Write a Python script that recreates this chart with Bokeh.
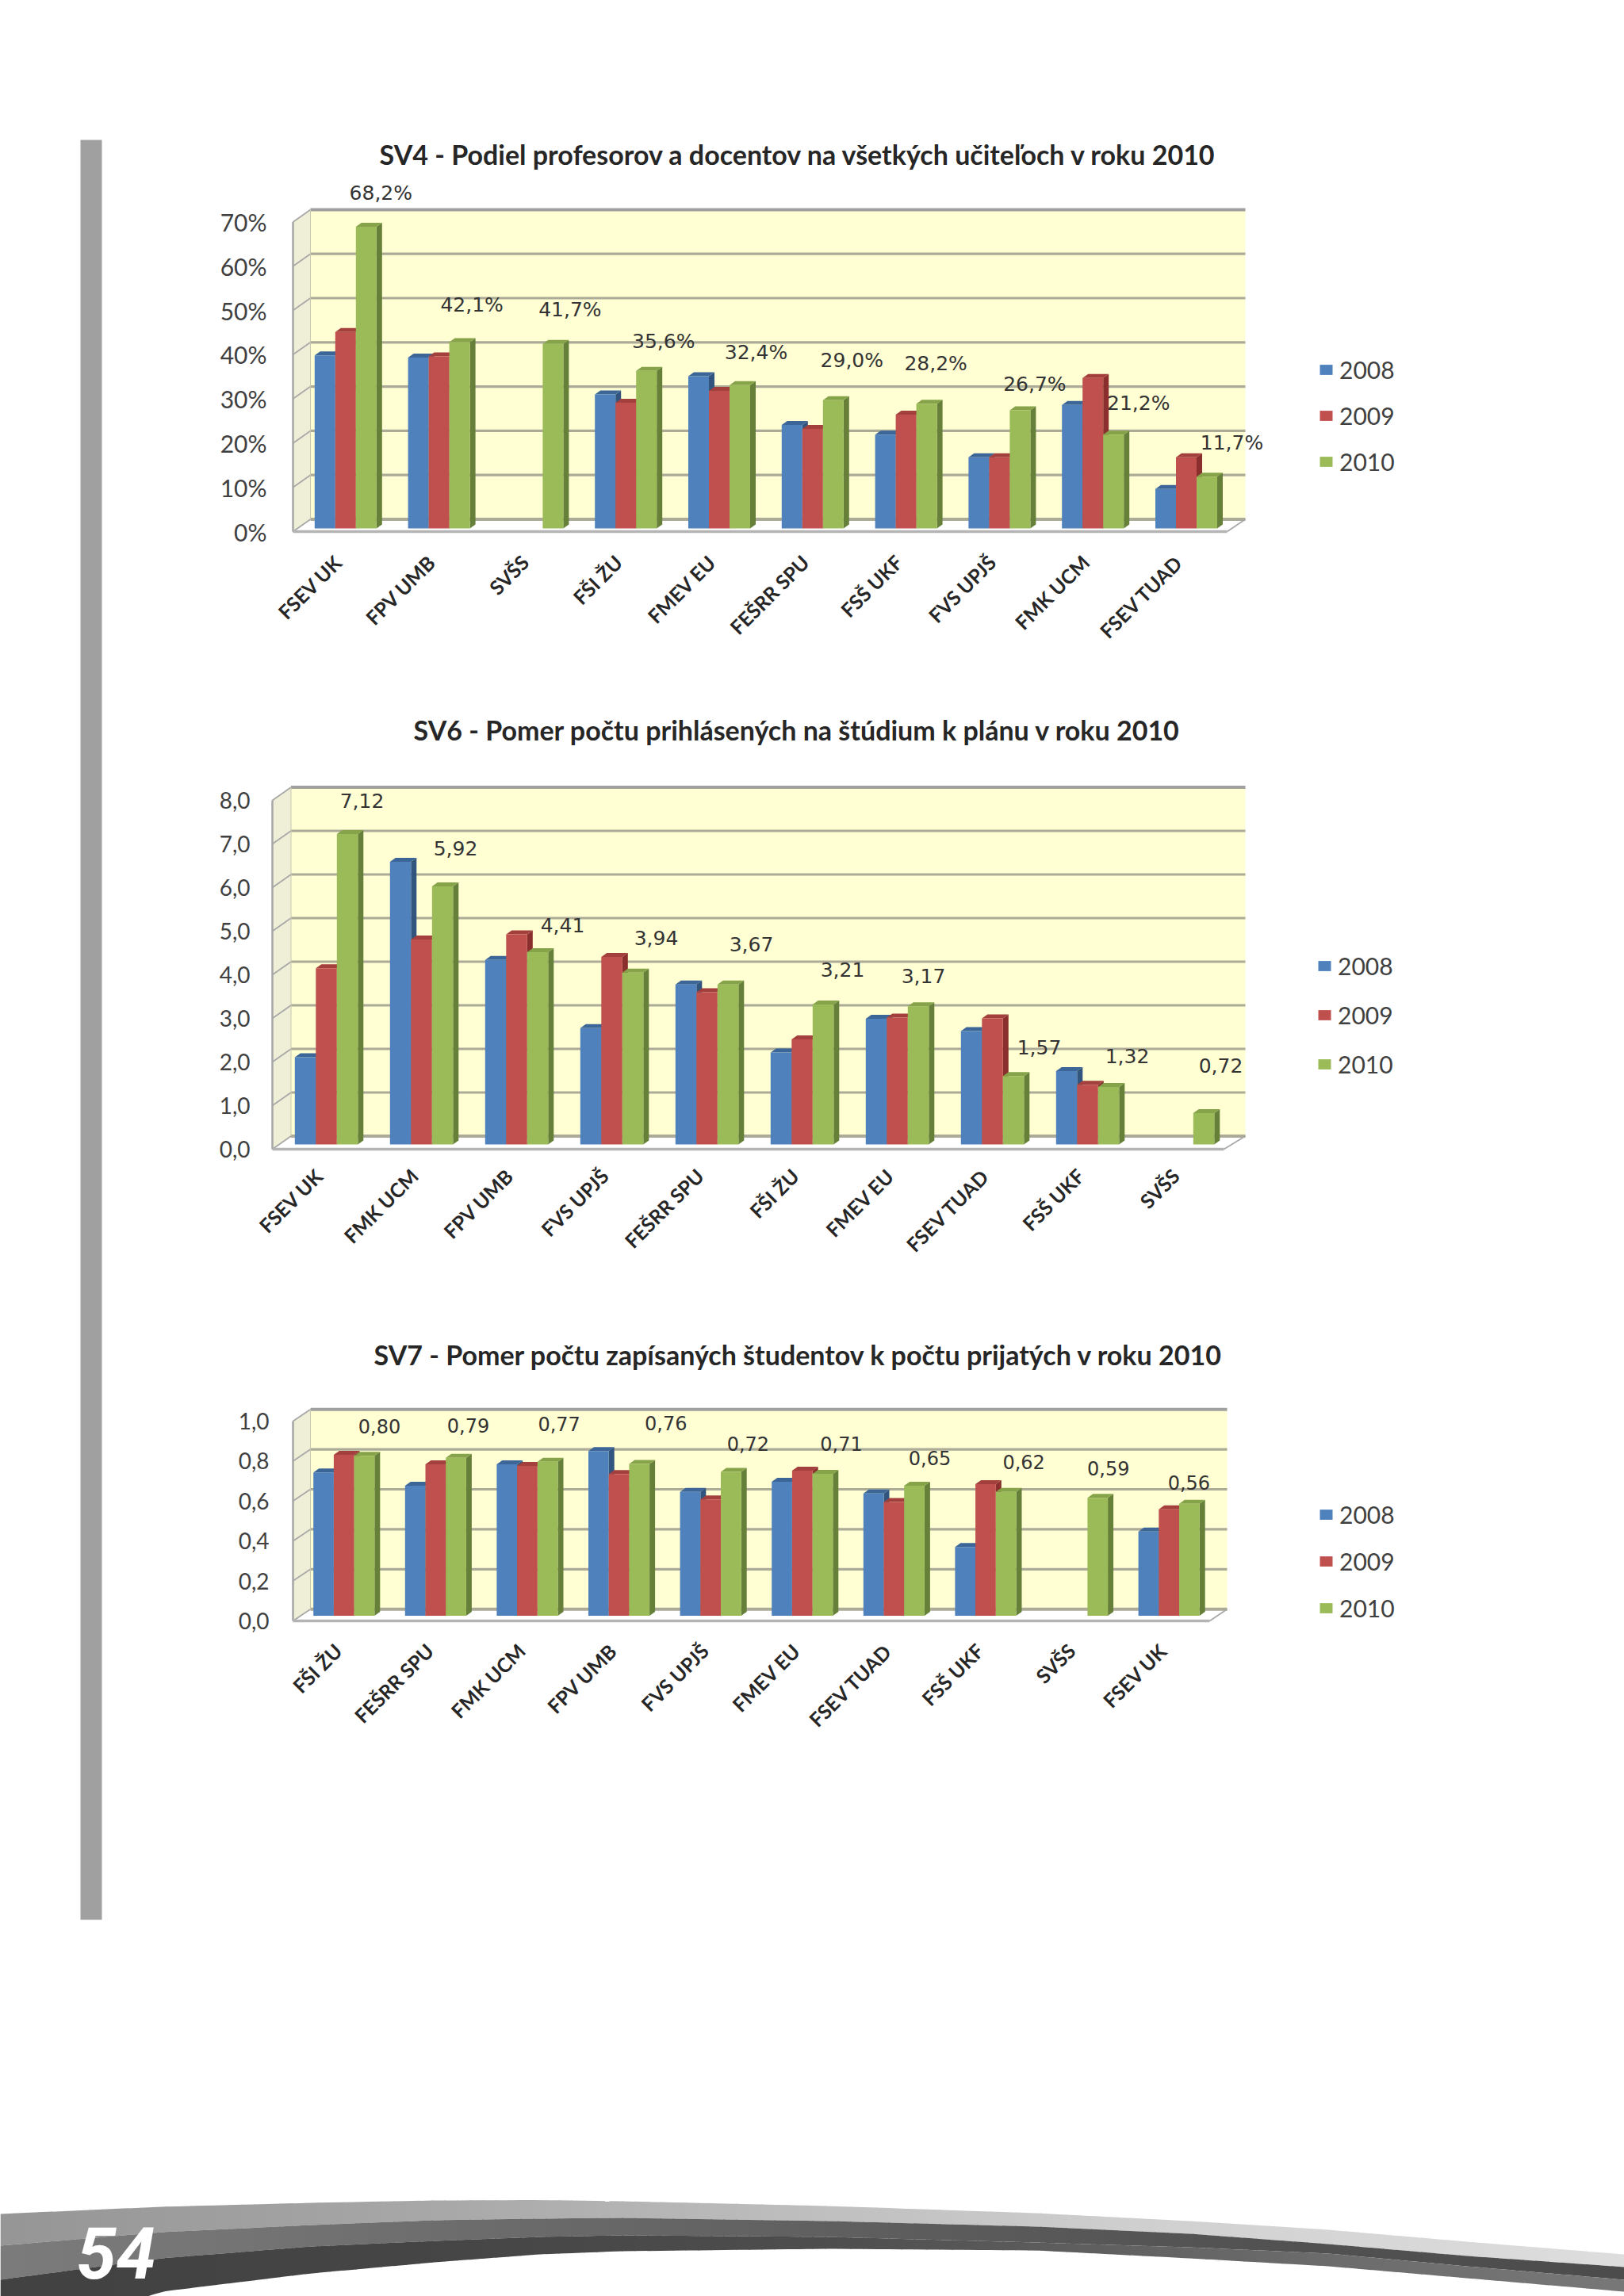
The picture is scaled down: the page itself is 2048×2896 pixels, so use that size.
import math
import numpy as np
from bokeh.embed import file_html
from bokeh.resources import INLINE
from bokeh.plotting import figure
from bokeh.layouts import column, row
from bokeh.models import FixedTicker, Label, Legend, LegendItem, Title, ColumnDataSource

YEARS = ["2008", "2009", "2010"]

SV4_TITLE = "SV4 - Podiel profesorov a docentov na všetkých učiteľoch v roku 2010"
SV4_CATS = ["FSEV UK", "FPV UMB", "SVŠS", "FŠI ŽU", "FMEV EU", "FEŠRR SPU", "FSŠ UKF", "FVS UPJŠ", "FMK UCM", "FSEV TUAD"]
SV4_2008 = [39.1, 38.6, None, 30.3, 34.4, 23.4, 21.2, 16.1, 27.9, 8.9]
SV4_2009 = [44.4, 38.9, None, 28.4, 31.1, 22.5, 25.7, 16.1, 34.0, 16.1]
SV4_2010 = [68.2, 42.1, 41.7, 35.6, 32.4, 29.0, 28.2, 26.7, 21.2, 11.7]
SV4_TEXT = ["68,2%", "42,1%", "41,7%", "35,6%", "32,4%", "29,0%", "28,2%", "26,7%", "21,2%", "11,7%"]
SV4_TICKS = [0, 10, 20, 30, 40, 50, 60, 70]
SV4_TICK_TEXT = ["0%", "10%", "20%", "30%", "40%", "50%", "60%", "70%"]

SV6_TITLE = "SV6 - Pomer počtu prihlásených na štúdium k plánu v roku 2010"
SV6_CATS = ["FSEV UK", "FMK UCM", "FPV UMB", "FVS UPJŠ", "FEŠRR SPU", "FŠI ŽU", "FMEV EU", "FSEV TUAD", "FSŠ UKF", "SVŠS"]
SV6_2008 = [2.00, 6.48, 4.23, 2.67, 3.67, 2.11, 2.88, 2.60, 1.68, None]
SV6_2009 = [4.04, 4.70, 4.82, 4.30, 3.49, 2.41, 2.91, 2.89, 1.37, None]
SV6_2010 = [7.12, 5.92, 4.41, 3.94, 3.67, 3.21, 3.17, 1.57, 1.32, 0.72]
SV6_TEXT = ["7,12", "5,92", "4,41", "3,94", "3,67", "3,21", "3,17", "1,57", "1,32", "0,72"]
SV6_TICKS = [0, 1, 2, 3, 4, 5, 6, 7, 8]
SV6_TICK_TEXT = ["0,0", "1,0", "2,0", "3,0", "4,0", "5,0", "6,0", "7,0", "8,0"]

SV7_TITLE = "SV7 - Pomer počtu zapísaných študentov k počtu prijatých v roku 2010"
SV7_CATS = ["FŠI ŽU", "FEŠRR SPU", "FMK UCM", "FPV UMB", "FVS UPJŠ", "FMEV EU", "FSEV TUAD", "FSŠ UKF", "SVŠS", "FSEV UK"]
SV7_2008 = [0.717, 0.65, 0.758, 0.824, 0.62, 0.67, 0.612, 0.344, None, 0.421]
SV7_2009 = [0.805, 0.758, 0.75, 0.709, 0.582, 0.726, 0.569, 0.658, None, 0.532]
SV7_2010 = [0.80, 0.79, 0.77, 0.76, 0.72, 0.71, 0.65, 0.62, 0.59, 0.56]
SV7_TEXT = ["0,80", "0,79", "0,77", "0,76", "0,72", "0,71", "0,65", "0,62", "0,59", "0,56"]
SV7_TICKS = [0, 0.2, 0.4, 0.6, 0.8, 1.0]
SV7_TICK_TEXT = ["0,0", "0,2", "0,4", "0,6", "0,8", "1,0"]

FRONT = ["#4F81BD", "#C0504D", "#9BBB59"]
TOP = ["#3D6698", "#A33F3C", "#86A34A"]
SIDE = ["#31557F", "#8A2F2D", "#66803A"]

PAGE_RIGHT = 2048
FIG_LEFT = 129
FRAME_LEFT = 340   # a column lines up its plots' frames, so all three share this edge
PAD = 3


def chart(title, cats, series, texts, ticks, tick_text, g):
    step, ppu, ax = g["step"], g["ppu"], g["ax"]
    vmax = ticks[-1]
    fr_bottom = g["front"] + PAD
    x0 = (FRAME_LEFT - ax) / step
    x1 = (PAGE_RIGHT - ax) / step
    y0 = -PAD / ppu
    y1 = (g["front"] - g["frame_top"]) / ppu
    p = figure(width=PAGE_RIGHT - FIG_LEFT, height=g["fig_bottom"] - g["fig_top"],
               x_range=(x0, x1), y_range=(y0, y1),
               min_border_left=FRAME_LEFT - FIG_LEFT, min_border_right=0,
               min_border_top=g["frame_top"] - g["fig_top"],
               min_border_bottom=g["fig_bottom"] - fr_bottom,
               output_backend="svg", toolbar_location=None)
    p.grid.visible = False
    p.outline_line_color = None
    p.background_fill_color = "white"

    wx = g["wall_dx"] / step
    wy = g["wall_dy"] / ppu
    xr = (g["right"] - ax) / step
    n = len(cats)

    # walls
    p.patch([wx, xr, xr, wx], [wy, wy, vmax + wy, vmax + wy], fill_color="#FFFFD3", line_color=None)
    p.patch([0, wx, wx, 0], [0, wy, vmax + wy, vmax], fill_color="#EFEFD8", line_color=None)
    # gridlines on the wall, with their diagonals on the side wall
    for t in ticks:
        col = "#A0A0A0" if t == vmax else "#ABAB98"
        wid = 4 if t in (0, vmax) else 3.2
        p.line([wx, xr], [t + wy, t + wy], line_color=col, line_width=wid)
        p.line([0, wx], [t, t + wy], line_color="#A8A8A8", line_width=1.8)
    # axis edge and floor
    p.line([0, 0], [0, vmax], line_color="#A6A6A6", line_width=2.5)
    p.line([wx, wx], [0 + wy, vmax + wy], line_color="#C8C8B0", line_width=1)
    p.line([0, n], [0, 0], line_color="#B4B4B4", line_width=3.5)
    p.line([n, xr], [0, wy], line_color="#A8A8A8", line_width=1.8)

    # 3-D bars
    base = g["base"] / ppu
    w = g["bar_w"] / step
    dx = g["depth_x"] / step
    dy = g["depth_y"] / ppu
    first = g["bar_off"] / step
    items = []
    for k, vals in enumerate(series):
        xl = [i + first + k * w for i, v in enumerate(vals) if v is not None]
        tp = [v + base for v in vals if v is not None]
        p.patches([[a + w, a + w + dx, a + w + dx, a + w] for a in xl],
                  [[base, base + dy, t + dy, t] for t in tp],
                  fill_color=SIDE[k], line_color=None)
        p.patches([[a, a + dx, a + w + dx, a + w] for a in xl],
                  [[t, t + dy, t + dy, t] for t in tp],
                  fill_color=TOP[k], line_color=None)
        r = p.vbar(x=[a + w / 2 for a in xl], width=w, bottom=base, top=tp,
                   fill_color=FRONT[k], line_color=None)
        items.append(LegendItem(label=YEARS[k], renderers=[r]))

    # value labels above the 2010 bars
    green = series[2]
    src = ColumnDataSource(dict(
        x=[i + first + 2.5 * w + dx / 2 for i in range(n)],
        y=[v + base for v in green],
        t=texts, dx=g["lab_dx"], dy=g["lab_dy"]))
    p.text(x="x", y="y", text="t", x_offset="dx", y_offset="dy", source=src,
           text_font={"value": "DejaVu Sans"}, text_font_size={"value": g["lab_size"]},
           text_color="#333333", text_align="center", text_baseline="middle")

    # axes
    p.yaxis.ticker = FixedTicker(ticks=ticks)
    p.yaxis.major_label_overrides = {t: s for t, s in zip(ticks, tick_text)}
    p.yaxis.axis_line_color = None
    p.yaxis.major_tick_line_color = None
    p.yaxis.minor_tick_line_color = None
    p.yaxis.major_label_standoff = g["y_standoff"]
    p.yaxis.major_label_text_font = "Lato"
    p.yaxis.major_label_text_font_size = g["tick_size"]
    p.yaxis.major_label_text_color = "#404040"

    xt = [i + 0.5 + g["x_shift"] / step for i in range(n)]
    p.xaxis.ticker = FixedTicker(ticks=xt)
    p.xaxis.major_label_overrides = {t: c for t, c in zip(xt, cats)}
    p.xaxis.axis_line_color = None
    p.xaxis.major_tick_line_color = None
    p.xaxis.minor_tick_line_color = None
    p.xaxis.major_label_orientation = math.radians(45)
    p.xaxis.major_label_standoff = g["x_standoff"]
    p.xaxis.major_label_text_font = "Lato"
    p.xaxis.major_label_text_font_style = "bold"
    p.xaxis.major_label_text_font_size = "25px"
    p.xaxis.major_label_text_color = "#262626"

    # legend
    leg = Legend(items=items, location=(g["leg_x"] - FRAME_LEFT, fr_bottom - g["leg_bottom"]),
                 orientation="vertical", background_fill_alpha=0, border_line_color=None,
                 padding=0, margin=0, spacing=g["leg_spacing"], glyph_width=20, glyph_height=16,
                 label_standoff=7, label_text_font="Lato", label_text_font_size="30px",
                 label_text_color="#404040", label_height=28)
    p.add_layout(leg, "center")

    # title
    p.title = Title(text=title, text_font="Lato", text_font_style="bold", text_font_size=g["title_size"],
                    text_color="#262626", align="left", offset=g["title_x"] - FRAME_LEFT,
                    standoff=g["title_standoff"])
    return p


G4 = dict(step=117.8, ppu=5.58, ax=369, front=670, frame_top=225, fig_top=0, fig_bottom=860,
          wall_dx=22, wall_dy=15.5, right=1570, base=4, bar_w=26, depth_x=7, depth_y=5, bar_off=27.3,
          lab_dx=[15, 12, 18, 18, 17, 20, 8, 15, 28, 28],
          lab_dy=[-42, -47, -43, -37, -41, -50, -51, -33, -40, -43],
          lab_size="25px", tick_size="30px", y_standoff=-2, x_shift=-2, x_standoff=25,
          leg_x=1662, leg_bottom=600, leg_spacing=22, title_x=478, title_size="34px", title_standoff=21)
G6 = dict(step=120.0, ppu=55.0, ax=343, front=1449, frame_top=950, fig_top=860, fig_bottom=1640,
          wall_dx=23.5, wall_dy=16.5, right=1570, base=6, bar_w=26.5, depth_x=7, depth_y=5, bar_off=28.3,
          lab_dx=[15, 13, 28, 26, 26, 21, 3, 29, 20, 18],
          lab_dy=[-42, -48, -34, -44, -51, -44, -38, -36, -39, -60],
          lab_size="25px", tick_size="28px", y_standoff=19, x_shift=-1, x_standoff=20,
          leg_x=1660, leg_bottom=1360, leg_spacing=26, title_x=521, title_size="34px", title_standoff=20)
G7 = dict(step=115.6, ppu=252.0, ax=369, front=2044, frame_top=1735, fig_top=1640, fig_bottom=2440,
          wall_dx=22, wall_dy=14.8, right=1547, base=6.6, bar_w=25.7, depth_x=7, depth_y=5, bar_off=25.7,
          lab_dx=[15.5, 12, 11, 30, 18, 20, 16, 19, 10, -4],
          lab_dy=[-37, -41, -48, -51, -35, -38, -35, -38, -37, -27],
          lab_size="24px", tick_size="28px", y_standoff=-5, x_shift=-1, x_standoff=24,
          leg_x=1662, leg_bottom=2046, leg_spacing=23, title_x=471, title_size="34px", title_standoff=14)

f1 = chart(SV4_TITLE, SV4_CATS, [SV4_2008, SV4_2009, SV4_2010], SV4_TEXT, SV4_TICKS, SV4_TICK_TEXT, G4)
f2 = chart(SV6_TITLE, SV6_CATS, [SV6_2008, SV6_2009, SV6_2010], SV6_TEXT, SV6_TICKS, SV6_TICK_TEXT, G6)
f3 = chart(SV7_TITLE, SV7_CATS, [SV7_2008, SV7_2009, SV7_2010], SV7_TEXT, SV7_TICKS, SV7_TICK_TEXT, G7)

# grey strip on the left of the page
strip = figure(width=FIG_LEFT, height=2440, x_range=(0, FIG_LEFT), y_range=(2440, 0),
               x_axis_type=None, y_axis_type=None, min_border=0, output_backend="svg", toolbar_location=None)
strip.grid.visible = False
strip.outline_line_color = None
strip.quad(left=101, right=128, top=176, bottom=2421, fill_color="#A0A0A0", line_color=None)

# footer swoosh
foot = figure(width=2048, height=456, x_range=(0, 2048), y_range=(2896, 2440),
              x_axis_type=None, y_axis_type=None, min_border=0, output_backend="svg", toolbar_location=None)
foot.grid.visible = False
foot.outline_line_color = None
SX = [0, 203, 392, 548, 679, 784, 1045, 1306, 1500, 1675, 1849, 2048]
E1 = [2792, 2783, 2778, 2775, 2774.5, 2776, 2782, 2791, 2801, 2812, 2827, 2843]
E2 = [2832, 2815, 2806, 2800, 2798, 2797, 2801, 2808, 2817, 2830, 2845, 2859]
E3 = [2875, 2848, 2833, 2826, 2821, 2819, 2821, 2828, 2834, 2842, 2858, 2875]
E4 = [2960, 2890, 2867, 2853, 2843, 2839, 2836, 2838, 2848, 2858, 2873, 2890]
CX = [0, 548, 1045, 1500, 2048]
BANDS = [(E1, E2, [0x96, 0xA8, 0xC0, 0xD2, 0xDE]),
         (E2, E3, [0x7C, 0x6E, 0x60, 0x54, 0x4C]),
         (E3, E4, [0x42, 0x46, 0x4E, 0x66, 0x78])]
xs_grid = np.linspace(0, 2048, 129)
for top_e, bot_e, shades in BANDS:
    xs, ys, cols = [], [], []
    for a, b in zip(xs_grid[:-1], xs_grid[1:]):
        bb = min(b + 1, 2048)
        xs.append([a, bb, bb, a])
        ys.append([np.interp(a, SX, top_e), np.interp(bb, SX, top_e),
                   np.interp(bb, SX, bot_e), np.interp(a, SX, bot_e)])
        s = int(np.interp((a + b) / 2, CX, shades))
        cols.append("#%02x%02x%02x" % (s, s, s))
    foot.patches(xs, ys, fill_color=cols, line_color=None)
foot.add_layout(Label(x=96, y=2841, text="54", text_font="Roboto", text_font_style="bold italic",
                      text_font_size="90px", text_color="white", text_align="left", text_baseline="middle"))

page = column(row(strip, column(f1, f2, f3)), foot)
open("out.html", "w").write(file_html(page, INLINE))
